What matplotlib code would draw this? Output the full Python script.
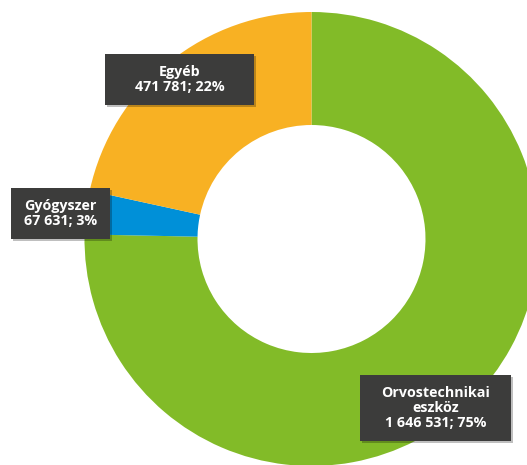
import matplotlib.pyplot as plt
from matplotlib.patches import Rectangle

labels = ['Orvostechnikai\neszköz', 'Gyógyszer', 'Egyéb']
values = [1646531, 67631, 471781]
colors = ['#82BB28', '#0090D8', '#F8B123']
# label boxes in pixel coords: left, top, width, height (top-down y)
boxes = [(360, 375, 151, 66), (11, 188, 99, 51), (105, 54, 149, 51)]

W, H = 527, 465
fig = plt.figure(figsize=(W / 100, H / 100), dpi=100)
ax = fig.add_axes([0, 0, 1, 1])

total = sum(values)
ax.pie(values, colors=colors, startangle=90, counterclock=False,
       center=(311.5, H - 239), radius=227,
       wedgeprops=dict(width=113, linewidth=0), frame=True)
ax.set_xlim(0, W)
ax.set_ylim(0, H)
ax.axis('off')

for lab, val, (x, y, w, h) in zip(labels, values, boxes):
    pct = round(100 * val / total)
    num = '{:,}'.format(val).replace(',', ' ')
    txt = '{}\n{}; {}%'.format(lab, num, pct)
    # shadow
    ax.add_patch(Rectangle((x + 2, H - y - h - 2), w, h, color='#000000', alpha=0.25, lw=0))
    ax.add_patch(Rectangle((x, H - y - h), w, h, color='#3C3C3B', lw=0))
    ax.text(x + w / 2, H - y - h / 2, txt, ha='center', va='center',
            color='white', fontsize=10.3, fontweight='bold', family='Open Sans',
            linespacing=1.1)

fig.savefig('out.png', dpi=100)
